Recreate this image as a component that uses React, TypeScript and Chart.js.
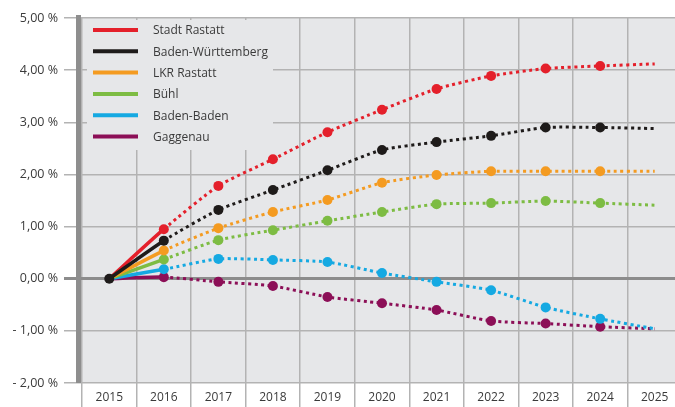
import { useEffect, useRef } from "react";
import { Chart, registerables } from "chart.js";

Chart.register(...registerables);

const years = ["2015", "2016", "2017", "2018", "2019", "2020", "2021", "2022", "2023", "2024", "2025"];
const stadtRastatt = [0, 0.95, 1.78, 2.29, 2.81, 3.24, 3.64, 3.89, 4.03, 4.08, 4.12];
const badenWuerttemberg = [0, 0.73, 1.32, 1.7, 2.08, 2.47, 2.62, 2.74, 2.9, 2.9, 2.88];
const lkrRastatt = [0, 0.54, 0.97, 1.28, 1.51, 1.84, 1.99, 2.06, 2.06, 2.06, 2.06];
const buehl = [0, 0.37, 0.74, 0.93, 1.11, 1.28, 1.43, 1.45, 1.49, 1.45, 1.41];
const badenBaden = [0, 0.18, 0.38, 0.36, 0.32, 0.11, -0.06, -0.22, -0.55, -0.77, -0.96];
const gaggenau = [0, 0.03, -0.06, -0.14, -0.35, -0.47, -0.6, -0.81, -0.86, -0.92, -0.96];
const yMin = -2;
const yMax = 5;

const seriesNames = ["Stadt Rastatt", "Baden-Württemberg", "LKR Rastatt", "Bühl", "Baden-Baden", "Gaggenau"];
const seriesValues = [stadtRastatt, badenWuerttemberg, lkrRastatt, buehl, badenBaden, gaggenau];
const seriesColors = ["#e4202b", "#1e1b1a", "#f49b21", "#7dbc43", "#15a9e2", "#8c0f57"];

const FONT = "'Open Sans', sans-serif";
const PLOT_BG = "#e6e7e9";

function fmt(v: number) {
  const s = Math.abs(v).toFixed(2).replace(".", ",") + " %";
  return v < 0 ? "- " + s : s;
}

const bgPlugin = {
  id: "bgPlugin",
  beforeDraw(chart: any) {
    const { ctx, chartArea } = chart;
    ctx.save();
    ctx.fillStyle = PLOT_BG;
    ctx.fillRect(chartArea.left, chartArea.top, chartArea.right - chartArea.left, chartArea.bottom - chartArea.top);
    ctx.restore();
  },
  beforeDatasetsDraw(chart: any) {
    const { ctx, chartArea } = chart;
    ctx.save();
    // legend box covering grid lines
    ctx.fillStyle = PLOT_BG;
    ctx.fillRect(chartArea.left + 5, chartArea.top + 2, 186, 130);
    // thick y axis bar
    ctx.fillStyle = "#8e8e8e";
    ctx.fillRect(chartArea.left - 6, chartArea.top - 3, 5, chartArea.bottom - chartArea.top + 3);
    ctx.restore();
  },
};

const legendPlugin = {
  id: "customLegend",
  afterDraw(chart: any) {
    const { ctx } = chart;
    ctx.save();
    seriesNames.forEach((name, i) => {
      const y = 30 + i * 21.3;
      ctx.strokeStyle = seriesColors[i];
      ctx.lineWidth = 4;
      ctx.lineCap = "butt";
      ctx.beginPath();
      ctx.moveTo(93, y);
      ctx.lineTo(138, y);
      ctx.stroke();
      ctx.fillStyle = "#3a3a3a";
      ctx.font = "12px " + FONT;
      ctx.textBaseline = "middle";
      ctx.textAlign = "left";
      ctx.fillText(name, 153, y + 1);
    });
    ctx.restore();
  },
};

export default function App() {
  const ref = useRef<HTMLCanvasElement | null>(null);

  useEffect(() => {
    if (!ref.current) return;
    const datasets = seriesNames.map((name, i) => ({
      label: name,
      data: seriesValues[i],
      borderColor: seriesColors[i],
      backgroundColor: seriesColors[i],
      borderWidth: 3.5,
      tension: 0.2,
      order: i === 1 ? -1 : i,
      pointBorderWidth: 0,
      pointRadius: (c: any) => (c.dataIndex === years.length - 1 ? 0 : c.dataIndex === 0 ? (i === 1 ? 5 : 0) : 5),
      pointHoverRadius: 0,
      segment: {
        borderDash: (c: any) => (c.p0DataIndex >= 1 ? [3, 3.5] : undefined),
        borderWidth: (c: any) => (c.p0DataIndex >= 1 ? 3 : 3.5),
      },
    }));

    const chart = new Chart(ref.current, {
      type: "line",
      data: { labels: years, datasets },
      plugins: [bgPlugin, legendPlugin],
      options: {
        animation: false,
        responsive: false,
        events: [],
        layout: { padding: { top: 18, left: 0, right: 0, bottom: 0 } },
        plugins: { legend: { display: false }, tooltip: { enabled: false } },
        scales: {
          x: {
            type: "category",
            offset: true,
            grid: {
              offset: true,
              color: "#b3b3b3",
              lineWidth: 1.5,
              tickLength: 24,
              drawTicks: true,
            },
            border: { display: false },
            ticks: {
              padding: -17,
              color: "#3a3a3a",
              font: { family: FONT, size: 12 },
              maxRotation: 0,
              autoSkip: false,
            },
            afterFit: (s: any) => {
              s.height = 24;
            },
          },
          y: {
            min: yMin,
            max: yMax,
            grid: {
              color: (c: any) => (c.tick && c.tick.value === 0 ? "#8c8c8c" : "#b3b3b3"),
              lineWidth: (c: any) => (c.tick && c.tick.value === 0 ? 3 : 1.5),
              tickLength: 18,
              drawTicks: true,
            },
            border: { display: false },
            ticks: {
              stepSize: 1,
              padding: 6,
              color: "#3a3a3a",
              font: { family: FONT, size: 12.5 },
              callback: (v: any) => fmt(Number(v)),
            },
            afterFit: (s: any) => {
              s.width = 82;
            },
          },
        },
      },
    });
    return () => chart.destroy();
  }, []);

  return (
    <div style={{ position: "fixed", left: 0, top: 0, width: 675, height: 407, overflow: "hidden", background: "#fff" }}>
      <canvas ref={ref} width={687} height={407} style={{ position: "absolute", left: 0, top: 0, width: 687, height: 407 }} />
    </div>
  );
}
